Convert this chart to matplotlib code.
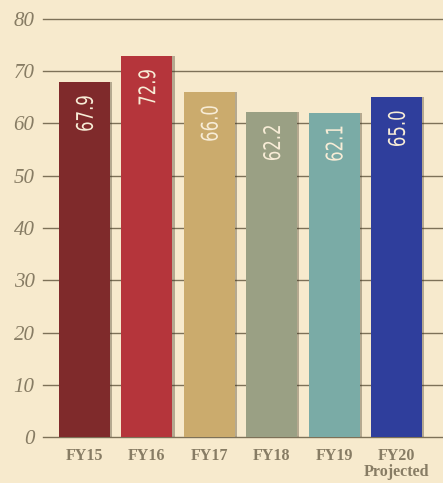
import matplotlib.pyplot as plt
import matplotlib.transforms as mtransforms
from matplotlib.textpath import TextPath
from matplotlib.patches import PathPatch
from matplotlib.font_manager import FontProperties
import numpy as np

# fiscal years and values
years = ["FY15", "FY16", "FY17", "FY18", "FY19", "FY20\nProjected"]
values = [67.9, 72.9, 66.0, 62.2, 62.1, 65.0]
labels = ["67.9", "72.9", "66.0", "62.2", "62.1", "65.0"]
colors = ["#7f2a2b", "#b5353b", "#cbab6d", "#9aa084", "#7aaba6", "#2f3e9c"]
yticks = [0, 10, 20, 30, 40, 50, 60, 70, 80]

bg = "#f7eacd"
grid_col = "#7d7158"
txt_col = "#877c64"
DPI = 100

fig = plt.figure(figsize=(4.43, 4.83), dpi=DPI, facecolor=bg)
ax = fig.add_axes([0.097, 0.0952, 0.903, 0.8655])
ax.set_facecolor(bg)

x = np.arange(len(years))

# gridlines behind the bars
for t in yticks:
    ax.axhline(t, color=grid_col, lw=1.0, zorder=1, clip_on=False)

# soft shadow on the right side of each bar
ax.bar(x + 0.035, values, width=0.82, color="#3a3020", alpha=0.35, zorder=2)
ax.bar(x, values, width=0.82, color=colors, zorder=3)

# condensed, rotated value labels (squeeze DejaVu along reading direction)
fp = FontProperties(family="DejaVu Sans")
for xi, v, lab in zip(x, values, labels):
    tp = TextPath((0, 0), lab, size=16.5, prop=fp)
    ext = tp.get_extents()
    tr = (mtransforms.Affine2D()
          .translate(-ext.x1, -(ext.y0 + ext.y1) / 2)
          .scale(0.72 * DPI / 72, DPI / 72)
          .rotate_deg(90)
          + mtransforms.ScaledTranslation(xi, v - 2.7, ax.transData))
    ax.add_patch(PathPatch(tp, transform=tr, color="#f7ecd6", lw=0, zorder=4))

ax.set_xlim(-0.665, 5.745)
ax.set_ylim(0, 80)
ax.set_yticks(yticks)
ax.set_yticklabels([str(t) for t in yticks], family="Liberation Serif",
                   style="italic", fontsize=15, color=txt_col)
ax.set_xticks(x)
ax.set_xticklabels(years, family="Liberation Serif", fontweight="bold",
                   fontsize=11.5, color=txt_col, linespacing=1.0)
ax.tick_params(axis="y", length=0, pad=6)
ax.tick_params(axis="x", length=0, pad=8)
for s in ax.spines.values():
    s.set_visible(False)

fig.savefig("out.png", dpi=DPI, facecolor=bg)
